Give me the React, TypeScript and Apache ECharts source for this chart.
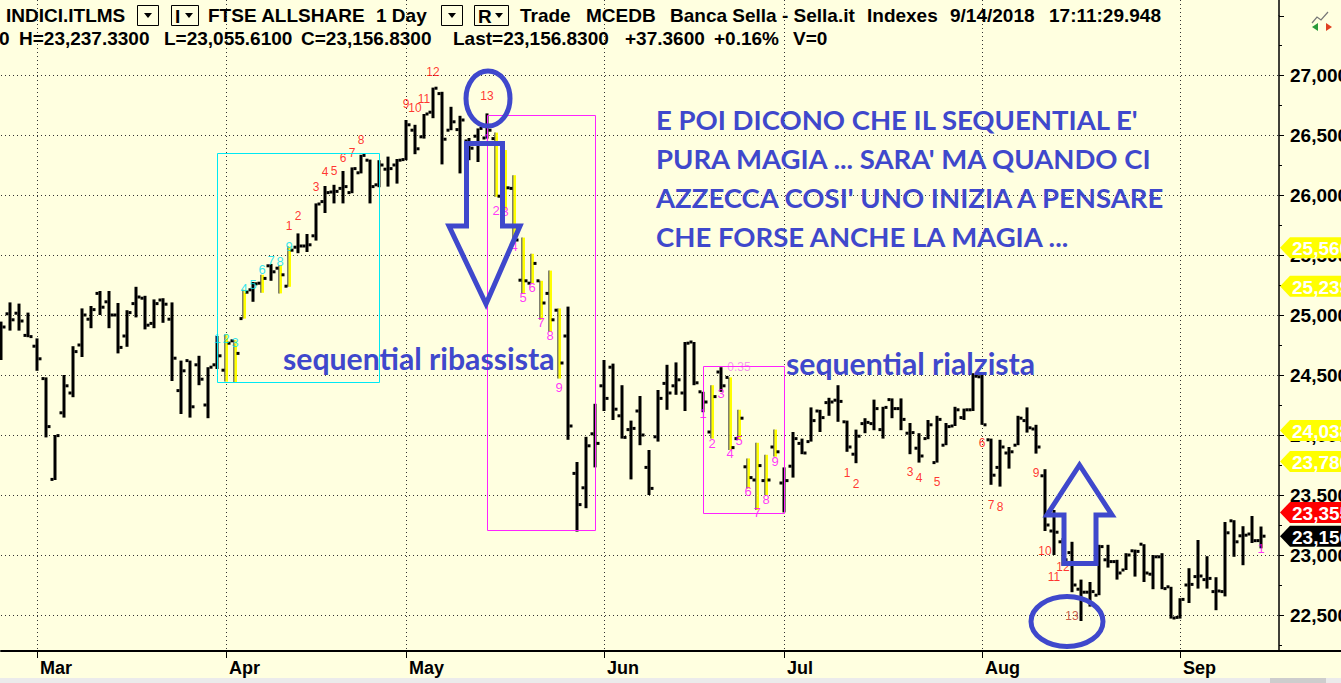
import React, { useEffect, useRef } from 'react';
import * as echarts from 'echarts';

// Trading sessions on the chart, month by month
const sessions: [string, number[]][] = [
  ['Feb', [23, 26, 27, 28]],
  ['Mar', [1, 2, 5, 6, 7, 8, 9, 12, 13, 14, 15, 16, 19, 20, 21, 22, 23, 26, 27, 28, 29]],
  ['Apr', [3, 4, 5, 6, 9, 10, 11, 12, 13, 16, 17, 18, 19, 20, 23, 24, 25, 26, 27, 30]],
  ['May', [2, 3, 4, 7, 8, 9, 10, 11, 14, 15, 16, 17, 18, 21, 22, 23, 24, 25, 28, 29, 30, 31]],
  ['Jun', [1, 4, 5, 6, 7, 8, 11, 12, 13, 14, 15, 18, 19, 20, 21, 22, 25, 26, 27, 28]],
  ['Jul', [2, 3, 4, 5, 6, 9, 10, 11, 12, 13, 16, 17, 18, 19, 20, 23, 24, 25, 26, 27, 30, 31]],
  ['Aug', [1, 2, 3, 6, 7, 8, 9, 10, 13, 14, 16, 17, 20, 21, 22, 23, 24, 27, 28, 29, 30, 31]],
  ['Sep', [3, 4, 5, 6, 7, 10, 11, 12, 13, 14]],
];

// Daily bars: [open, high, low, close]
const feb = [
  [24790, 24945, 24625, 24900],
  [25010, 25105, 24870, 24960],
  [25015, 25095, 24870, 24950],
  [24830, 25020, 24815, 24820],
];
const mar = [
  [24740, 24805, 24535, 24635],
  [24470, 24480, 23980, 24070],
  [23630, 24000, 23625, 23995],
  [24185, 24500, 24145, 24410],
  [24350, 24740, 24315, 24695],
  [24750, 25055, 24650, 25000],
  [24965, 25075, 24890, 25045],
  [25180, 25200, 25000, 25065],
  [25110, 25200, 24890, 25000],
  [25000, 25100, 24680, 24730],
  [24825, 25040, 24735, 25020],
  [25095, 25235, 24980, 25150],
  [25140, 25160, 24880, 24915],
  [24930, 25130, 24890, 25095],
  [25125, 25140, 24935, 25090],
  [24965, 25105, 24450, 24640],
  [24370, 24620, 24175, 24535],
  [24620, 24620, 24145, 24235],
  [24585, 24660, 24415, 24465],
  [24250, 24565, 24140, 24565],
  [24585, 24825, 24550, 24660],
];
const apr = [
  [24540, 24840, 24445, 24765],
  [24785, 24790, 24435, 24680],
  [24970, 25210, 24970, 25190],
  [25210, 25275, 25110, 25260],
  [25265, 25335, 25185, 25305],
  [25410, 25425, 25285, 25360],
  [25390, 25415, 25180, 25335],
  [25240, 25570, 25235, 25540],
  [25565, 25680, 25515, 25575],
  [25575, 25675, 25525, 25585],
  [25660, 25930, 25620, 25925],
  [25945, 26075, 25850, 26020],
  [26025, 26085, 25930, 26030],
  [26055, 26200, 25930, 26070],
  [26020, 26230, 26015, 26220],
  [26185, 26335, 26180, 26330],
  [26290, 26295, 25930, 26070],
  [26085, 26290, 26065, 26250],
  [26215, 26320, 26070, 26220],
  [26250, 26300, 26095, 26290],
];
const may = [
  [26295, 26625, 26290, 26585],
  [26540, 26585, 26340, 26385],
  [26485, 26675, 26470, 26675],
  [26690, 26895, 26640, 26890],
  [26845, 26860, 26255, 26465],
  [26540, 26735, 26540, 26610],
  [26545, 26660, 26180, 26625],
  [26450, 26475, 26290, 26390],
  [26490, 26555, 26275, 26555],
  [26475, 26680, 26470, 26540],
  [26470, 26520, 25985, 25990],
  [25960, 26375, 25875, 26060],
  [26055, 26165, 25610, 25625],
  [25290, 25645, 25180, 25285],
  [25265, 25510, 25265, 25430],
  [25285, 25285, 24960, 25100],
  [25180, 25370, 24860, 24960],
  [25040, 25055, 24470, 24600],
  [24825, 25070, 23960, 24075],
  [23680, 23775, 23195, 23420],
  [23560, 23985, 23390, 23910],
  [24010, 24260, 23730, 23930],
];
const jun = [
  [24410, 24625, 24200, 24305],
  [24565, 24595, 24125, 24215],
  [24160, 24415, 23970, 23980],
  [24045, 24120, 23630, 24055],
  [24200, 24325, 23915, 24000],
  [23730, 23875, 23500, 23555],
  [23985, 24375, 23945, 24305],
  [24430, 24585, 24210, 24350],
  [24410, 24605, 24335, 24460],
  [24350, 24775, 24200, 24765],
  [24775, 24775, 24415, 24435],
  [24360, 24360, 24190, 24275],
  [24025, 24415, 23970, 24320],
  [24525, 24565, 24360, 24410],
  [24480, 24480, 23875, 23895],
  [23970, 24210, 23960, 24140],
  [23735, 23805, 23555, 23645],
  [23625, 23935, 23375, 23745],
  [23620, 23835, 23500, 23625],
  [23900, 24045, 23820, 23860],
];
const jul = [
  [23600, 23730, 23355, 23620],
  [23740, 24025, 23645, 23970],
  [23930, 23970, 23840, 23850],
  [23945, 24230, 23945, 24120],
  [24200, 24210, 24025, 24145],
  [24270, 24310, 24160, 24275],
  [24290, 24415, 24110, 24280],
  [24110, 24120, 23860, 23900],
  [23840, 24045, 23765, 23990],
  [24095, 24140, 24015, 24105],
  [24095, 24295, 24040, 24220],
  [24045, 24235, 23970, 24230],
  [24295, 24305, 24140, 24220],
  [24220, 24305, 24040, 24130],
  [24015, 24100, 23840, 24020],
  [23890, 24015, 23770, 23825],
  [23970, 24125, 23965, 24085],
  [23770, 24160, 23770, 24130],
  [23915, 24100, 23915, 24070],
  [24075, 24235, 24075, 24210],
  [24145, 24220, 24125, 24210],
  [24210, 24515, 24200, 24490],
];
const aug = [
  [24485, 24500, 24085, 24085],
  [23960, 23970, 23585, 23665],
  [23730, 23960, 23570, 23900],
  [23850, 23900, 23720, 23860],
  [23915, 24160, 23915, 24140],
  [24120, 24230, 24020, 24060],
  [24050, 24085, 23845, 23900],
  [23660, 23715, 23200, 23250],
  [23200, 23375, 23000, 23190],
  [23110, 23140, 22910, 22960],
  [23020, 23110, 22690, 22750],
  [22715, 22795, 22450, 22690],
  [22690, 22775, 22570, 22695],
  [22665, 23085, 22665, 23070],
  [22960, 23085, 22895, 22945],
  [22945, 22960, 22795, 22850],
  [22875, 23015, 22875, 23000],
  [23035, 23045, 22820, 23030],
  [23090, 23090, 22775, 22850],
  [22840, 23000, 22715, 22985],
  [22985, 23015, 22715, 22720],
  [22735, 22735, 22470, 22475],
];
const sep = [
  [22480, 22640, 22470, 22630],
  [22750, 22890, 22600, 22755],
  [22820, 23125, 22720, 22825],
  [22795, 22990, 22720, 22805],
  [22695, 22815, 22540, 22700],
  [22695, 23275, 22655, 23185],
  [23285, 23290, 22985, 23110],
  [23160, 23240, 22915, 23165],
  [23175, 23325, 23100, 23119.47],
  [23120, 23237.33, 23055.61, 23156.83],
];

// Sessions painted yellow by the sequential setup
const setupBars = [
  'Apr 3', 'Apr 4', 'Apr 5', 'Apr 9', 'Apr 11', 'Apr 12',
  'May 16', 'May 17', 'May 18', 'May 21', 'May 22', 'May 23', 'May 24', 'May 25',
  'Jun 19', 'Jun 21', 'Jun 22', 'Jun 25', 'Jun 26', 'Jun 27', 'Jun 28',
];

// Counter labels: [session, text, price level]
const setupUp: [string, string, number][] = [
  ['Mar 29', '1', 24808], ['Apr 3', '2', 24808], ['Apr 4', '3', 24775], ['Apr 5', '4', 25217],
  ['Apr 6', '5', 25258], ['Apr 9', '6', 25383], ['Apr 10', '7', 25458], ['Apr 11', '8', 25450],
  ['Apr 12', '9', 25567],
];
const countdownUp: [string, string, number][] = [
  ['Apr 12', '1', 25744], ['Apr 13', '2', 25827], ['Apr 17', '3', 26064], ['Apr 18', '4', 26194],
  ['Apr 19', '5', 26200], ['Apr 20', '6', 26306], ['Apr 23', '7', 26347], ['Apr 24', '8', 26458],
  ['May 2', '9', 26758], ['May 3', '10', 26722], ['May 4', '11', 26797], ['May 7', '12', 27027],
  ['May 15', '13', 26825],
];
const setupDown: [string, string, number][] = [
  ['May 15', '1', 26472], ['May 16', '2', 25869], ['May 17', '3', 25861], ['May 18', '4', 25569],
  ['May 21', '5', 25148], ['May 22', '6', 25228], ['May 23', '7', 24936], ['May 24', '8', 24833],
  ['May 25', '9', 24398],
  ['Jun 18', '1', 24181], ['Jun 19', '2', 23931], ['Jun 20', '3', 24342], ['Jun 21', '4', 23847],
  ['Jun 22', '5', 23958], ['Jun 25', '6', 23528], ['Jun 26', '7', 23353], ['Jun 27', '8', 23464],
  ['Jun 28', '9', 23778], ['Sep 14', '1', 23058],
];
const countdownDown: [string, string, number][] = [
  ['Jul 11', '1', 23683], ['Jul 12', '2', 23592], ['Jul 20', '3', 23692], ['Jul 23', '4', 23642],
  ['Jul 25', '5', 23608], ['Aug 1', '6', 23933], ['Aug 2', '7', 23417], ['Aug 3', '8', 23400],
  ['Aug 9', '9', 23683], ['Aug 10', '10', 23033], ['Aug 13', '11', 22817], ['Aug 14', '12', 22900],
];
const countdownLast: [string, string, number][] = [['Aug 16', '13', 22492]];
const ratioNote: [string, string, number][] = [['Jun 22', '0.35', 24567]];

// Setup ranges: [first session, last session, top price, bottom price]
const setupRanges: [string, string, number, number][] = [
  ['Mar 29', 'Apr 26', 26347, 24440],
  ['May 15', 'May 31', 26667, 23208],
  ['Jun 18', 'Jul 2', 24575, 23352],
];
const rangeKinds = ['up', 'down', 'down'];

// Levels flagged on the price scale
const tagLevels = [25560, 25239, 24038, 23780, 23355, 23156.83];
const tagKinds = ['level', 'level', 'level', 'level', 'prev', 'last'];

const noteLines = [
  "E POI DICONO CHE IL SEQUENTIAL E'",
  "PURA MAGIA ... SARA' MA QUANDO CI",
  "AZZECCA COSI' UNO INIZIA A PENSARE",
  'CHE FORSE ANCHE LA MAGIA ...',
];

const UI_FONT = '"Liberation Sans", Arial, sans-serif';
const NOTE_FONT = 'Lato, "Open Sans", sans-serif';
const INK = '#3f48cc';
const BG = '#ffffe0';

// price scale: 0.12 px per point, 27,000 sits 75 px below the top of the page
const GRID_TOP = 16;
const GRID_BOTTOM = 32;
const PRICE_MIN = 22200;
const PRICE_MAX = 27625 - (GRID_TOP * 25) / 3;

const ohlc = [...feb, ...mar, ...apr, ...may, ...jun, ...jul, ...aug, ...sep];
const categories = sessions.flatMap(([m, days]) => days.map((d) => `${m} ${d}`));
const axisCategories = [...categories, '', ' '];
const monthStarts = new Set<number>();
{
  let n = 0;
  sessions.forEach(([, days], k) => {
    if (k > 0) monthStarts.add(n);
    n += days.length;
  });
}
const idx = (d: string) => categories.indexOf(d);

const group = (n: number) => String(n).replace(/\B(?=(\d{3})+(?!\d))/g, ',');
const fix = (v: number, dp: number) => {
  const [a, b] = v.toFixed(dp).split('.');
  return `${group(Number(a))}.${b}`;
};

function labelSeries(rows: [string, string, number][], color: string, size: number) {
  return {
    type: 'scatter',
    silent: true,
    symbol: 'circle',
    symbolSize: 1,
    itemStyle: { color: 'rgba(0,0,0,0)' },
    z: 6,
    data: rows.map(([d, t, p]) => ({ value: [idx(d), p], name: t })),
    label: {
      show: true,
      position: 'inside',
      formatter: '{b}',
      color,
      fontSize: size,
      fontFamily: UI_FONT,
    },
  };
}

function buildOption() {
  const setupSet = new Set(setupBars.map(idx));
  const barData = ohlc.map((b, i) => [i, b[0], b[1], b[2], b[3], setupSet.has(i) ? 1 : 0]);
  return {
    animation: false,
    backgroundColor: BG,
    grid: {
      left: 1,
      right: 62,
      top: GRID_TOP,
      bottom: GRID_BOTTOM,
      containLabel: false,
      outerBoundsMode: 'none',
    },
    xAxis: {
      type: 'category',
      data: axisCategories,
      boundaryGap: false,
      axisLine: { lineStyle: { color: '#000', width: 2 } },
      axisTick: { interval: (i: number) => monthStarts.has(i), length: 7, lineStyle: { color: '#000' } },
      axisLabel: {
        interval: (i: number) => monthStarts.has(i),
        formatter: (v: string) => v.split(' ')[0],
        align: 'left',
        padding: [0, 0, 0, 3],
        margin: 8,
        color: '#000',
        fontWeight: 'bold',
        fontSize: 18,
        fontFamily: UI_FONT,
      },
      splitLine: {
        show: true,
        interval: (i: number) => monthStarts.has(i),
        lineStyle: { color: '#333', width: 1, type: [1, 3] },
      },
    },
    yAxis: {
      type: 'value',
      position: 'right',
      min: PRICE_MIN,
      max: PRICE_MAX,
      minInterval: 500,
      maxInterval: 500,
      axisLine: { show: true, lineStyle: { color: '#000', width: 1.5 } },
      axisTick: { show: true, length: 5, lineStyle: { color: '#000' } },
      minorTick: { show: true, splitNumber: 2, length: 3, lineStyle: { color: '#000' } },
      axisLabel: {
        formatter: (v: number) => (v % 500 === 0 ? group(v) : ''),
        showMinLabel: false,
        showMaxLabel: false,
        margin: 11,
        color: '#000',
        fontWeight: 'bold',
        fontSize: 19,
        fontFamily: UI_FONT,
      },
      splitLine: {
        show: true,
        showMinLine: false,
        showMaxLine: false,
        lineStyle: { color: '#333', width: 1, type: [1, 3] },
      },
    },
    series: [
      {
        type: 'custom',
        silent: true,
        clip: false,
        z: 3,
        data: barData,
        encode: { x: 0, y: [1, 2, 3, 4] },
        renderItem: (_p: any, api: any) => {
          const i = api.value(0);
          const [x, yh] = api.coord([i, api.value(2)]);
          const yl = api.coord([i, api.value(3)])[1];
          const yo = api.coord([i, api.value(1)])[1];
          const yc = api.coord([i, api.value(4)])[1];
          const painted = api.value(5) === 1;
          const children: any[] = [];
          if (painted) {
            children.push({ type: 'rect', shape: { x: x - 1.5, y: yh, width: 1, height: yl - yh }, style: { fill: '#000' } });
            children.push({ type: 'rect', shape: { x: x - 0.5, y: yh, width: 2.5, height: yl - yh }, style: { fill: '#ffff00' } });
          } else {
            children.push({ type: 'rect', shape: { x: x - 1.5, y: yh, width: 3, height: Math.max(yl - yh, 1) }, style: { fill: '#000' } });
          }
          children.push({ type: 'rect', shape: { x: x - 4.5, y: yo - 1.5, width: 3, height: 3 }, style: { fill: '#000' } });
          children.push({ type: 'rect', shape: { x: x + 1.5, y: yc - 1.5, width: 3, height: 3 }, style: { fill: '#000' } });
          return { type: 'group', children };
        },
      },
      labelSeries(setupUp, '#00e0f0', 13),
      labelSeries(countdownUp, '#ff0000', 12),
      labelSeries(setupDown, '#ff00ff', 13),
      labelSeries(countdownDown, '#ff0000', 12),
      labelSeries(countdownLast, '#b83020', 12),
      labelSeries(ratioNote, '#f080f0', 12),
    ],
  };
}

function text(t: string, x: number, y: number, font: any, extra: any = {}) {
  return {
    type: 'text',
    silent: true,
    z: 100,
    x,
    y,
    ...extra,
    style: {
      text: t,
      x: 0,
      y: 0,
      fill: font.fill ?? '#000',
      fontSize: font.size,
      fontWeight: font.weight ?? 'bold',
      fontFamily: font.family ?? UI_FONT,
      align: 'left',
      verticalAlign: 'middle',
    },
  };
}

function dropBox(x: number, w: number, letter?: string) {
  const els: any[] = [
    { type: 'rect', silent: true, z: 100, shape: { x: x + 0.5, y: 5.5, width: w, height: 20 }, style: { fill: 'none', stroke: '#000', lineWidth: 1 } },
  ];
  const cx = letter ? x + w - 9 : x + w / 2 + 0.5;
  els.push({ type: 'polygon', silent: true, z: 100, shape: { points: [[cx - 4, 13], [cx + 4, 13], [cx, 18]] }, style: { fill: '#000' } });
  if (letter) els.push(text(letter, x + 4, 16, { size: 19 }));
  return els;
}

function buildOverlay(chart: any) {
  const px = (i: number, p: number) => chart.convertToPixel({ gridIndex: 0 }, [i, p]);
  const py = (p: number) => chart.convertToPixel({ yAxisIndex: 0 }, p);
  const els: any[] = [];

  // month rules and the price scale line run up through the header band
  monthStarts.forEach((i) => {
    const x = Math.round(px(i, PRICE_MAX)[0]) + 0.5;
    els.push({ type: 'line', silent: true, z: 1, shape: { x1: x, y1: 0, x2: x, y2: GRID_TOP }, style: { stroke: '#333', lineWidth: 1, lineDash: [1, 3] } });
  });
  const axisX = px(axisCategories.length - 1, PRICE_MAX)[0];
  els.push({ type: 'line', silent: true, z: 1, shape: { x1: axisX, y1: 0, x2: axisX, y2: GRID_TOP }, style: { stroke: '#000', lineWidth: 1.5 } });

  // setup range frames
  setupRanges.forEach(([a, b, top, bottom], k) => {
    const [x1, y1] = px(idx(a), top);
    const [x2, y2] = px(idx(b), bottom);
    els.push({
      type: 'rect', silent: true, z: 50,
      shape: { x: Math.round(x1) + 0.5, y: Math.round(y1) + 0.5, width: Math.round(x2 - x1), height: Math.round(y2 - y1) },
      style: { fill: 'none', stroke: rangeKinds[k] === 'up' ? '#00e8f4' : '#ff22ff', lineWidth: 1 },
    });
  });

  // hand-drawn marks
  const pen = { fill: 'none', stroke: INK, lineWidth: 5, lineJoin: 'miter' };
  els.push({ type: 'polygon', silent: true, z: 120, shape: { points: [[466.5, 143.5], [502.5, 143.5], [502.5, 226], [520, 226], [486, 304], [449, 226], [466.5, 226]] }, style: pen });
  els.push({ type: 'polygon', silent: true, z: 120, shape: { points: [[1079.5, 465], [1112, 515], [1096, 515], [1096, 563.5], [1064, 563.5], [1064, 515], [1047, 515]] }, style: pen });
  els.push({ type: 'ellipse', silent: true, z: 120, shape: { cx: 488, cy: 98.5, rx: 22, ry: 27.5 }, style: { fill: 'none', stroke: INK, lineWidth: 5 } });
  els.push({ type: 'ellipse', silent: true, z: 120, shape: { cx: 1067, cy: 621.5, rx: 36, ry: 25 }, style: { fill: 'none', stroke: INK, lineWidth: 5 } });

  // comments
  const noteFont = { size: 27.5, family: NOTE_FONT, fill: INK };
  noteLines.forEach((line, k) => els.push(text(line, 656, 119 + k * 39.3, noteFont)));
  const seqFont = { size: 30.2, family: NOTE_FONT, fill: INK };
  els.push(text('sequential ribassista', 283, 358, seqFont));
  els.push(text('sequential rialzista', 786, 363, seqFont));

  // flagged levels on the price scale
  tagLevels.forEach((v, k) => {
    const y = py(v);
    const kind = tagKinds[k];
    const fill = kind === 'last' ? '#000' : kind === 'prev' ? '#ff0000' : '#ffff00';
    els.push({
      type: 'polygon', silent: true, z: 110,
      shape: { points: [[1280, y], [1290, y - 10.5], [1341, y - 10.5], [1341, y + 10.5], [1290, y + 10.5]] },
      style: { fill },
    });
    els.push(text(group(Math.floor(v)), 1292, y + 1, { size: 19, fill: '#fff' }, { z: 111 }));
  });

  // header
  const last = sep[sep.length - 1];
  const prev = sep[sep.length - 2][3];
  const chg = last[3] - prev;
  const hf = { size: 19 };
  [
    ['INDICI.ITLMS', 6],
    ['FTSE ALLSHARE', 208],
    ['1 Day', 376],
    ['Trade', 520],
    ['MCEDB', 586],
    ['Banca Sella - Sella.it', 670],
    ['Indexes', 867],
    ['9/14/2018', 950],
    ['17:11:29.948', 1049],
  ].forEach(([t, x]) => els.push(text(t as string, x as number, 15, hf)));
  els.push(...dropBox(137, 21), ...dropBox(171, 27, 'I'), ...dropBox(441, 21), ...dropBox(474, 34, 'R'));
  [
    ['0', -1],
    [`H=${fix(last[1], 4)}`, 19],
    [`L=${fix(last[2], 4)}`, 164],
    [`C=${fix(last[3], 4)}`, 301],
    [`Last=${fix(last[3], 4)}`, 453],
    [`+${fix(chg, 4)}`, 625],
    [`+${((chg / prev) * 100).toFixed(2)}%`, 714],
    ['V=0', 793],
  ].forEach(([t, x]) => els.push(text(t as string, x as number, 38.5, hf)));

  // small chart icon in the corner
  els.push({ type: 'polyline', silent: true, z: 100, shape: { points: [[1312, 23], [1317, 17], [1321, 20], [1328, 12]] }, style: { stroke: '#777', lineWidth: 1.2, fill: 'none' } });
  els.push({ type: 'polygon', silent: true, z: 100, shape: { points: [[1312, 27], [1318, 23], [1318, 31]] }, style: { fill: '#2a9a3a' } });
  els.push({ type: 'polygon', silent: true, z: 100, shape: { points: [[1332, 27], [1326, 23], [1326, 31]] }, style: { fill: '#e04020' } });

  // axis line continues under the price scale, scroll strip below
  const baseY = 683 - GRID_BOTTOM;
  els.push({ type: 'line', silent: true, z: 100, shape: { x1: axisX, y1: baseY, x2: 1341, y2: baseY }, style: { stroke: '#000', lineWidth: 2 } });
  els.push({ type: 'rect', silent: true, z: 100, shape: { x: 0, y: 678, width: 1341, height: 5 }, style: { fill: '#ebebeb' } });
  els.push({ type: 'rect', silent: true, z: 101, shape: { x: 1270, y: 678, width: 56, height: 5 }, style: { fill: '#cdcdcd' } });

  return els;
}

export default function App() {
  const ref = useRef<HTMLDivElement>(null);
  useEffect(() => {
    document.body.style.margin = '0';
    const chart = echarts.init(ref.current as HTMLDivElement, undefined, { renderer: 'svg' });
    chart.setOption(buildOption() as any);
    chart.setOption({ graphic: buildOverlay(chart) } as any);
    return () => chart.dispose();
  }, []);
  return (
    <div
      ref={ref}
      style={{ position: 'absolute', left: 0, top: 0, width: 1341, height: 683, background: BG }}
    />
  );
}
